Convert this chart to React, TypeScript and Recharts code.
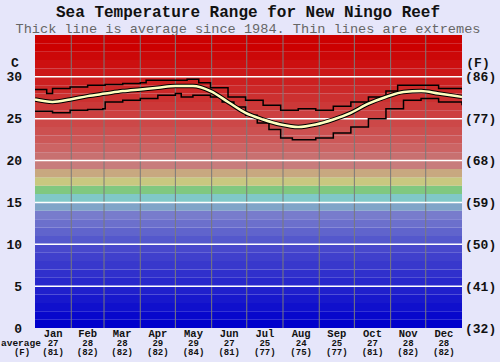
import React from 'react';
import { ComposedChart, Line, XAxis, YAxis, ReferenceArea, ReferenceLine } from 'recharts';

const MONTHS = ['Jan', 'Feb', 'Mar', 'Apr', 'May', 'Jun', 'Jul', 'Aug', 'Sep', 'Oct', 'Nov', 'Dec'];
const MONTH_AVG_C = [27, 28, 28, 29, 29, 27, 25, 24, 25, 27, 28, 28];
const MONTH_AVG_F = [81, 82, 82, 82, 84, 81, 77, 75, 77, 81, 82, 82];
const MONTH_MID = [15.5, 45, 74.5, 105, 135.5, 166, 196.5, 227.5, 258, 288.5, 319, 349.5];
const MONTH_BOUNDS = [31, 59, 90, 120, 151, 181, 212, 243, 273, 304, 334];

const C_TICKS = [0, 5, 10, 15, 20, 25, 30];
const F_TICKS = [32, 41, 50, 59, 68, 77, 86];

const AVG_DAYS = [0, 15, 30, 45, 60, 75, 90, 105, 120, 135, 150, 165, 180, 195, 210, 225, 240, 255, 270, 285, 300, 315, 330, 345, 360, 365];
const AVG_TEMPS = [27.3, 27.0, 27.3, 27.7, 28.0, 28.3, 28.5, 28.7, 28.9, 28.9, 28.3, 27.0, 25.7, 24.9, 24.3, 24.0, 24.3, 24.9, 25.7, 26.8, 27.6, 28.2, 28.3, 28.0, 27.7, 27.6];

const MAX_DAYS = [0, 10, 15, 30, 45, 60, 75, 90, 95, 120, 130, 140, 150, 165, 180, 195, 210, 225, 240, 255, 270, 285, 300, 310, 330, 345, 365];
const MAX_TEMPS = [28.5, 28.0, 28.6, 28.8, 29.0, 29.1, 29.2, 29.3, 29.6, 29.6, 29.7, 29.3, 28.7, 27.6, 27.2, 26.6, 26.0, 26.2, 26.0, 26.5, 27.0, 27.6, 28.3, 29.0, 29.0, 28.6, 28.5];

const MIN_DAYS = [0, 15, 30, 45, 58, 60, 75, 90, 105, 120, 125, 135, 150, 160, 170, 180, 190, 200, 210, 220, 240, 255, 270, 285, 300, 315, 330, 345, 365];
const MIN_TEMPS = [25.9, 25.7, 26.0, 26.1, 26.2, 27.0, 27.2, 27.4, 27.8, 28.0, 27.6, 27.8, 27.6, 27.0, 26.4, 25.4, 24.5, 23.7, 22.7, 22.5, 22.7, 23.3, 24.0, 25.0, 26.2, 27.2, 27.4, 27.0, 26.6];

const BAND_COLORS = [
  '#0000cc', '#0808cc', '#1010cc', '#1818cc', '#2020cc', '#2828cc', '#3030cc', '#3838cc', '#4040cc', '#4848cc',
  '#5458cc', '#6064cc', '#6c70cc', '#787ccc', '#80a4c8', '#80c8c8', '#80c880', '#c8c880', '#c8a880', '#c87c7c',
  '#c87070', '#cc6464', '#cc5858', '#cc5050', '#cc4848', '#cc4040', '#cc3838', '#cc3030', '#cc2828', '#cc2020',
  '#cc1818', '#cc1010', '#cc0808', '#cc0000', '#cc0000',
];

const avgData = AVG_DAYS.map((d, i) => ({ d, t: AVG_TEMPS[i] }));
const maxData = MAX_DAYS.map((d, i) => ({ d, t: MAX_TEMPS[i] }));
const minData = MIN_DAYS.map((d, i) => ({ d, t: MIN_TEMPS[i] }));

const FONT = '"Liberation Mono", "DejaVu Sans Mono", monospace';

const XTick = (props: any) => {
  const { x, index } = props;
  return (
    <g>
      <text x={x} y={336.5} textAnchor="middle" fontFamily={FONT} fontWeight="bold" fontSize={10.5} fill="#111">
        {MONTHS[index]}
      </text>
      <text x={x} y={345.5} textAnchor="middle" fontFamily={FONT} fontWeight="bold" fontSize={9} fill="#111">
        {MONTH_AVG_C[index]}
      </text>
      <text x={x} y={355} textAnchor="middle" fontFamily={FONT} fontWeight="bold" fontSize={9} fill="#111">
        ({MONTH_AVG_F[index]})
      </text>
    </g>
  );
};

const LeftTick = (props: any) => {
  const { y, payload } = props;
  const i = C_TICKS.indexOf(payload.value);
  return (
    <g>
      <text x={22} y={y + 4.5} textAnchor="end" fontFamily={FONT} fontWeight="bold" fontSize={13} fill="#111">
        {payload.value}
      </text>
      <text x={465} y={y + 4.5} textAnchor="start" fontFamily={FONT} fontWeight="bold" fontSize={13} fill="#111">
        ({F_TICKS[i]})
      </text>
    </g>
  );
};

export default function App() {
  return (
    <div style={{ position: 'absolute', left: 0, top: 0, width: 500, height: 362, background: '#e6e6fa' }}>
      <ComposedChart width={500} height={362} margin={{ top: 35, right: 38, left: 0, bottom: 0 }}>
        <XAxis
          dataKey="d"
          type="number"
          domain={[0, 365]}
          ticks={MONTH_MID}
          tick={<XTick />}
          axisLine={false}
          tickLine={false}
          height={34}
          allowDataOverflow
          interval={0}
        />
        <YAxis
          yAxisId="c"
          domain={[0, 35]}
          ticks={C_TICKS}
          tick={<LeftTick />}
          axisLine={false}
          tickLine={false}
          width={35}
          allowDataOverflow
          interval={0}
        />
        {BAND_COLORS.map((c, i) => (
          <ReferenceArea key={'b' + i} yAxisId="c" y1={i} y2={i + 1} fill={c} fillOpacity={1} stroke="none" />
        ))}
        {MONTH_BOUNDS.map((d) => (
          <ReferenceLine key={'v' + d} yAxisId="c" x={d} stroke="#7a7a7a" strokeWidth={1} />
        ))}
        {C_TICKS.filter((t) => t > 0).map((t) => (
          <ReferenceLine key={'h' + t} yAxisId="c" y={t} stroke="#ffffff" strokeWidth={1.5} />
        ))}
        <Line yAxisId="c" data={maxData} dataKey="t" type="stepAfter" stroke="#000" strokeWidth={1.5} dot={false} activeDot={false} isAnimationActive={false} />
        <Line yAxisId="c" data={minData} dataKey="t" type="stepAfter" stroke="#000" strokeWidth={1.5} dot={false} activeDot={false} isAnimationActive={false} />
        <Line yAxisId="c" data={avgData} dataKey="t" type="monotone" stroke="#000" strokeWidth={4.5} dot={false} activeDot={false} isAnimationActive={false} />
        <Line yAxisId="c" data={avgData} dataKey="t" type="monotone" stroke="#ffffc0" strokeWidth={2.5} dot={false} activeDot={false} isAnimationActive={false} />
        <text x={248} y={16.5} textAnchor="middle" fontFamily={FONT} fontWeight="bold" fontSize={16} fill="#111">
          Sea Temperature Range for New Ningo Reef
        </text>
        <text x={248} y={33} textAnchor="middle" fontFamily={FONT} fontSize={13.6} fill="#666">
          Thick line is average since 1984. Thin lines are extremes
        </text>
        <text x={15} y={67} textAnchor="middle" fontFamily={FONT} fontWeight="bold" fontSize={13} fill="#111">
          C
        </text>
        <text x={478} y={67} textAnchor="middle" fontFamily={FONT} fontWeight="bold" fontSize={13} fill="#111">
          (F)
        </text>
        <text x={1} y={345.5} textAnchor="start" fontFamily={FONT} fontWeight="bold" fontSize={9.5} fill="#111">
          average
        </text>
        <text x={22} y={355} textAnchor="middle" fontFamily={FONT} fontWeight="bold" fontSize={9} fill="#111">
          (F)
        </text>
      </ComposedChart>
    </div>
  );
}
